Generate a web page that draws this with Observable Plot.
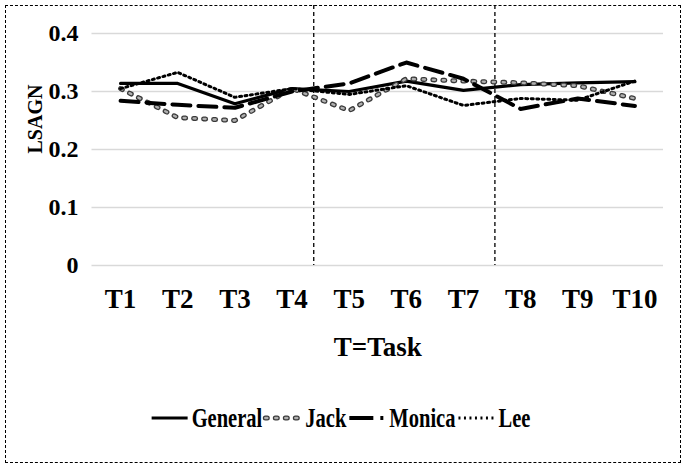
<!DOCTYPE html>
<html><head><meta charset="utf-8">
<script src="https://cdn.jsdelivr.net/npm/d3@7"></script>
<script src="https://cdn.jsdelivr.net/npm/@observablehq/plot@0.6"></script>
<style>
html,body{margin:0;padding:0;background:#fff;}
#frame{position:absolute;left:5px;top:5px;width:676px;height:458px;border:1px dashed #000;box-sizing:border-box;}
#chart{position:absolute;left:0;top:0;}
#legend{position:absolute;left:0;top:395px;}
</style></head><body>
<div id="frame"></div>
<div id="chart"></div>
<div id="legend"></div>
<script>
// ---- data ----
const tasks = ["T1","T2","T3","T4","T5","T6","T7","T8","T9","T10"];
const seriesNames = ["General","Jack","Monica","Lee"];
const general = [0.314, 0.314, 0.279, 0.305, 0.300, 0.318, 0.302, 0.312, 0.315, 0.317];
const jack    = [0.305, 0.255, 0.250, 0.305, 0.267, 0.322, 0.318, 0.315, 0.310, 0.288];
const monica  = [0.284, 0.277, 0.272, 0.300, 0.314, 0.350, 0.322, 0.270, 0.288, 0.275];
const lee     = [0.305, 0.333, 0.290, 0.305, 0.295, 0.310, 0.276, 0.288, 0.285, 0.318];
const yTicks = [0, 0.1, 0.2, 0.3, 0.4];
const dividers = [4.38, 7.55];   // phase separators (in task-index units)
const xTitle = "T=Task";
const yTitle = "LSAGN";

const seriesValues = {General: general, Jack: jack, Monica: monica, Lee: lee};
const rows = seriesNames.flatMap(s => seriesValues[s].map((v, i) => ({series: s, idx: i + 1, task: tasks[i], value: v})));
const xIdx = tasks.map((t, i) => i + 1);

const FONT = "Liberation Serif";
const styles = {
  General: [{stroke: "#000", strokeWidth: 3.2}],
  Jack: [{stroke: "#3a3a3a", strokeWidth: 5, strokeDasharray: "2,8", strokeLinecap: "round"},
         {stroke: "#b0b0b0", strokeWidth: 2.4, strokeDasharray: "2,8", strokeLinecap: "round"}],
  Monica: [{stroke: "#000", strokeWidth: 4, strokeDasharray: "18,8"}],
  Lee: [{stroke: "#000", strokeWidth: 3, strokeDasharray: "2,3.5"}]
};
const legendDash = {Monica: "24,7,3,7", Lee: "2,3.5"};

const lineMarks = seriesNames.flatMap(s => styles[s].map(st =>
  Plot.line(rows.filter(r => r.series === s), {x: "idx", y: "value", strokeLinejoin: "round", ...st})
));

const plot = Plot.plot({
  width: 685, height: 385,
  marginLeft: 91.5, marginRight: 22, marginTop: 5, marginBottom: 120,
  x: {type: "linear", domain: [0.5, 10.5], axis: null},
  y: {domain: [0, 0.4483], axis: null},
  style: {fontFamily: FONT, fontWeight: "bold", background: "transparent", overflow: "visible", color: "#000"},
  marks: [
    Plot.ruleY(yTicks, {stroke: "#d9d9d9", strokeWidth: 1.5}),
    Plot.ruleX(dividers, {stroke: "#000", strokeWidth: 1.3, strokeDasharray: "4,3"}),
    ...lineMarks,
    Plot.text(yTicks, {y: d => d, frameAnchor: "left", dx: -13.5, textAnchor: "end",
      text: d => d === 0 ? "0" : d.toFixed(1), fontSize: 24, fontWeight: "bold", fontFamily: FONT, ariaLabel: "ytick"}),
    Plot.text(xIdx, {x: d => d, frameAnchor: "bottom", dy: 34, lineAnchor: "middle",
      text: (d, i) => tasks[i], fontSize: 27, fontWeight: "bold", fontFamily: FONT, ariaLabel: "xtick"}),
    Plot.text([xTitle], {frameAnchor: "bottom", dy: 82, lineAnchor: "middle", text: d => d,
      fontSize: 27, fontWeight: "bold", fontFamily: FONT, ariaLabel: "xtitle"}),
    Plot.text([yTitle], {frameAnchor: "left", dx: -56.5, dy: 18, rotate: -90, lineAnchor: "middle",
      text: d => d, fontSize: 20, fontWeight: "bold", fontFamily: FONT, ariaLabel: "ytitle"})
  ]
});
document.getElementById("chart").appendChild(plot);

// condense text horizontally (reference text is tall and narrow)
function squeeze(root, sel, sx) {
  root.querySelectorAll(sel).forEach(t => {
    const len = t.getComputedTextLength();
    t.setAttribute("textLength", (len * sx).toFixed(2));
    t.setAttribute("lengthAdjust", "spacingAndGlyphs");
  });
}
squeeze(plot, 'g[aria-label="ytick"] text', 0.85);
squeeze(plot, 'g[aria-label="xtick"] text', 0.7);
squeeze(plot, 'g[aria-label="xtitle"] text', 0.72);
squeeze(plot, 'g[aria-label="ytitle"] text', 1.25);

// ---- legend ----
const kebab = k => k.replace(/[A-Z]/g, m => "-" + m.toLowerCase());
const lg = d3.select("#legend").append("svg").attr("width", 685).attr("height", 46);
const lgG = lg.append("g");
const cy = 23, sampleW = 36, sx = 0.76;
let x = 0;
seriesNames.forEach(name => {
  styles[name].forEach(st => {
    const ln = lgG.append("line").attr("x1", x).attr("x2", x + sampleW).attr("y1", cy).attr("y2", cy);
    Object.entries(st).forEach(([k, v]) => ln.attr(kebab(k), v));
    if (legendDash[name]) ln.attr("stroke-dasharray", legendDash[name]);
  });
  x += sampleW + 4;
  const t = lgG.append("text").attr("x", x).attr("y", cy)
    .attr("dy", "0.35em").attr("font-family", FONT).attr("font-weight", "bold").attr("font-size", 27).text(name);
  const w = t.node().getComputedTextLength() * sx;
  t.attr("textLength", w.toFixed(2)).attr("lengthAdjust", "spacingAndGlyphs");
  x += w + 3;
});
lgG.attr("transform", `translate(${342.5 - x / 2},0)`);
</script>
</body></html>
